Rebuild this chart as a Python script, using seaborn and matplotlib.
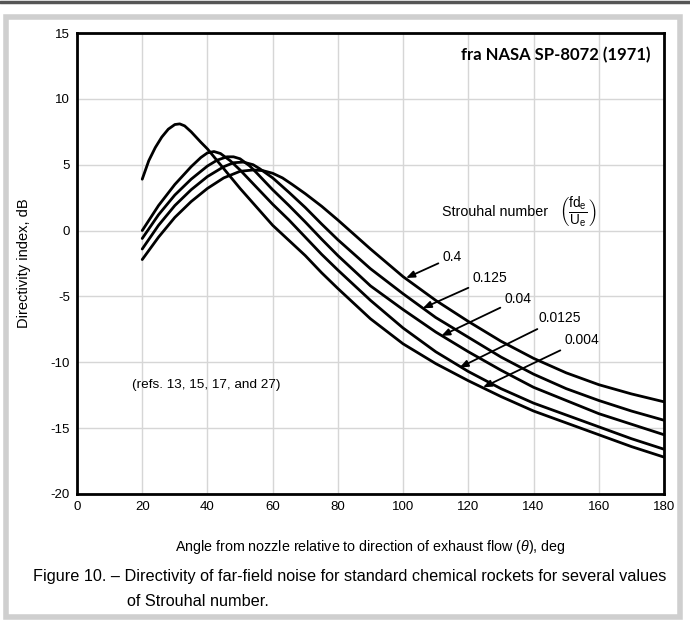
import pandas as pd
import matplotlib.pyplot as plt
import seaborn as sns
from matplotlib.patches import Rectangle
from matplotlib.lines import Line2D

# curves
STROUHAL = ["0.004", "0.0125", "0.04", "0.125", "0.4"]

ANGLE_004 = [20, 22, 24, 26, 28, 30, 31.5, 33, 35, 38, 40, 45, 50, 55, 60, 65, 70,
             75, 80, 90, 100, 110, 120, 130, 140, 150, 160, 170, 180]
DI_004 = [3.9, 5.3, 6.3, 7.1, 7.7, 8.05, 8.1, 7.95, 7.5, 6.7, 6.2, 4.7, 3.2, 1.8, 0.4,
          -0.75, -1.9, -3.2, -4.4, -6.7, -8.6, -10.1, -11.4, -12.6, -13.7, -14.6, -15.5,
          -16.4, -17.2]

ANGLE_0125 = [20, 25, 30, 35, 38, 40, 42, 44, 47, 50, 55, 60, 65, 70, 75, 80, 90, 100,
              110, 120, 130, 140, 150, 160, 170, 180]
DI_0125 = [0.0, 1.9, 3.5, 4.85, 5.55, 5.9, 6.0, 5.85, 5.3, 4.6, 3.3, 2.0, 0.8, -0.5,
           -1.8, -3.0, -5.3, -7.4, -9.2, -10.7, -12.0, -13.1, -14.0, -14.9, -15.8, -16.6]

ANGLE_04 = [20, 25, 30, 35, 40, 43, 46, 48, 50, 53, 55, 60, 65, 70, 75, 80, 90, 100,
            110, 120, 130, 140, 150, 160, 170, 180]
DI_04 = [-0.6, 1.2, 2.7, 3.9, 4.9, 5.35, 5.6, 5.6, 5.45, 4.9, 4.4, 3.1, 1.9, 0.65,
         -0.65, -1.9, -4.2, -6.0, -7.7, -9.2, -10.6, -11.9, -12.9, -13.9, -14.7, -15.5]

ANGLE_125 = [20, 25, 30, 35, 40, 45, 48, 51, 54, 56, 60, 65, 70, 75, 80, 90, 100, 110,
             120, 130, 140, 150, 160, 170, 180]
DI_125 = [-1.4, 0.4, 1.9, 3.1, 4.1, 4.85, 5.15, 5.2, 5.0, 4.7, 4.0, 2.9, 1.75, 0.5,
          -0.7, -2.9, -4.8, -6.6, -8.1, -9.6, -10.9, -12.0, -12.9, -13.7, -14.4]

ANGLE_4 = [20, 25, 30, 35, 40, 45, 50, 54, 57, 60, 63, 66, 70, 75, 80, 90, 100, 110,
           120, 130, 140, 150, 160, 170, 180]
DI_4 = [-2.2, -0.5, 1.0, 2.2, 3.2, 4.0, 4.5, 4.6, 4.55, 4.35, 4.0, 3.5, 2.8, 1.85,
        0.8, -1.4, -3.5, -5.3, -6.9, -8.4, -9.7, -10.8, -11.7, -12.4, -13.0]

# label text position and arrow tip (angle, dB)
LABEL_TEXT = [(149.6, -8.3), (141.4, -6.65), (131.2, -5.2), (121.4, -3.6), (112.2, -2.0)]
LABEL_TIP = [(124.5, -11.9), (117.3, -10.4), (111.7, -8.0), (106.0, -5.9), (100.9, -3.6)]

X_TICKS = list(range(0, 181, 20))
Y_TICKS = list(range(-20, 16, 5))

FONT = ["Liberation Sans", "DejaVu Sans"]

if __name__ == "__main__":
    sns.set_style("white")
    plt.rcParams["font.family"] = FONT
    plt.rcParams["axes.unicode_minus"] = False
    plt.rcParams["text.color"] = "black"
    plt.rcParams["axes.labelcolor"] = "black"
    plt.rcParams["xtick.color"] = "black"
    plt.rcParams["ytick.color"] = "black"
    plt.rcParams["mathtext.fontset"] = "custom"
    plt.rcParams["mathtext.rm"] = "Liberation Sans"
    plt.rcParams["mathtext.it"] = "Liberation Sans:italic"

    frames = []
    for s, a, d in zip(STROUHAL,
                       [ANGLE_004, ANGLE_0125, ANGLE_04, ANGLE_125, ANGLE_4],
                       [DI_004, DI_0125, DI_04, DI_125, DI_4]):
        frames.append(pd.DataFrame({"angle": a, "di": d, "strouhal": s}))
    df = pd.concat(frames, ignore_index=True)

    fig = plt.figure(figsize=(6.9, 6.22), dpi=100)
    ax = fig.add_axes([77 / 690, 1 - 494 / 622, (664 - 77) / 690, (494 - 33) / 622])

    sns.lineplot(data=df, x="angle", y="di", hue="strouhal",
                 palette=["black"] * 5, legend=False, linewidth=2.0,
                 errorbar=None, ax=ax)

    ax.set_xlim(0, 180)
    ax.set_ylim(-20, 15)
    ax.set_xticks(X_TICKS)
    ax.set_yticks(Y_TICKS)
    ax.grid(True, color="#d6d6d6", linewidth=1.0)
    for sp in ax.spines.values():
        sp.set_visible(True)
        sp.set_color("black")
        sp.set_linewidth(2.0)
    ax.tick_params(direction="in", length=5, width=1, labelsize=9.5, pad=5)

    ax.set_xlabel(r"Angle from nozzle relative to direction of exhaust flow ($\theta$), deg",
                  fontsize=10.3, labelpad=18)
    ax.set_ylabel("Directivity index, dB", fontsize=10.5, labelpad=14)

    for lab, (tx, ty), (px, py) in zip(STROUHAL, LABEL_TEXT, LABEL_TIP):
        ax.annotate(lab, xy=(px, py), xytext=(tx, ty), fontsize=10, va="center", ha="left",
                    arrowprops=dict(arrowstyle="-|>,head_length=0.5,head_width=0.2",
                                    color="black", lw=1.3, shrinkA=1, shrinkB=0))

    ax.text(112, 1.4, "Strouhal number", fontsize=10.3, ha="left", va="center")
    ax.text(153.4, 1.4, r"$\left(\frac{\mathrm{fd_e}}{\mathrm{U_e}}\right)$",
            fontsize=14, ha="center", va="center")
    ax.text(16.8, -11.7, "(refs. 13, 15, 17, and 27)", fontsize=9.7, ha="left", va="center")
    ax.text(176, 13.3, "fra NASA SP-8072 (1971)", fontsize=12, fontweight="bold",
            family=["Lato", "DejaVu Sans"], ha="right", va="center")

    fig.text(33 / 690, 1 - 577 / 622,
             "Figure 10. \u2013 Directivity of far-field noise for standard chemical rockets for several values",
             fontsize=11.7, ha="left", va="center")
    fig.text(127 / 690, 1 - 602 / 622, "of Strouhal number.",
             fontsize=11.7, ha="left", va="center")

    # scanned page frame
    fig.add_artist(Rectangle((6 / 690, 5 / 622), (680 - 6) / 690, (617 - 17) / 622,
                             transform=fig.transFigure, fill=False,
                             edgecolor="#cfcfcf", linewidth=4))
    fig.add_artist(Line2D([0, 1], [1 - 2 / 622, 1 - 2 / 622], transform=fig.transFigure,
                          color="#555555", linewidth=2.5))

    fig.savefig("out.png", dpi=100)
